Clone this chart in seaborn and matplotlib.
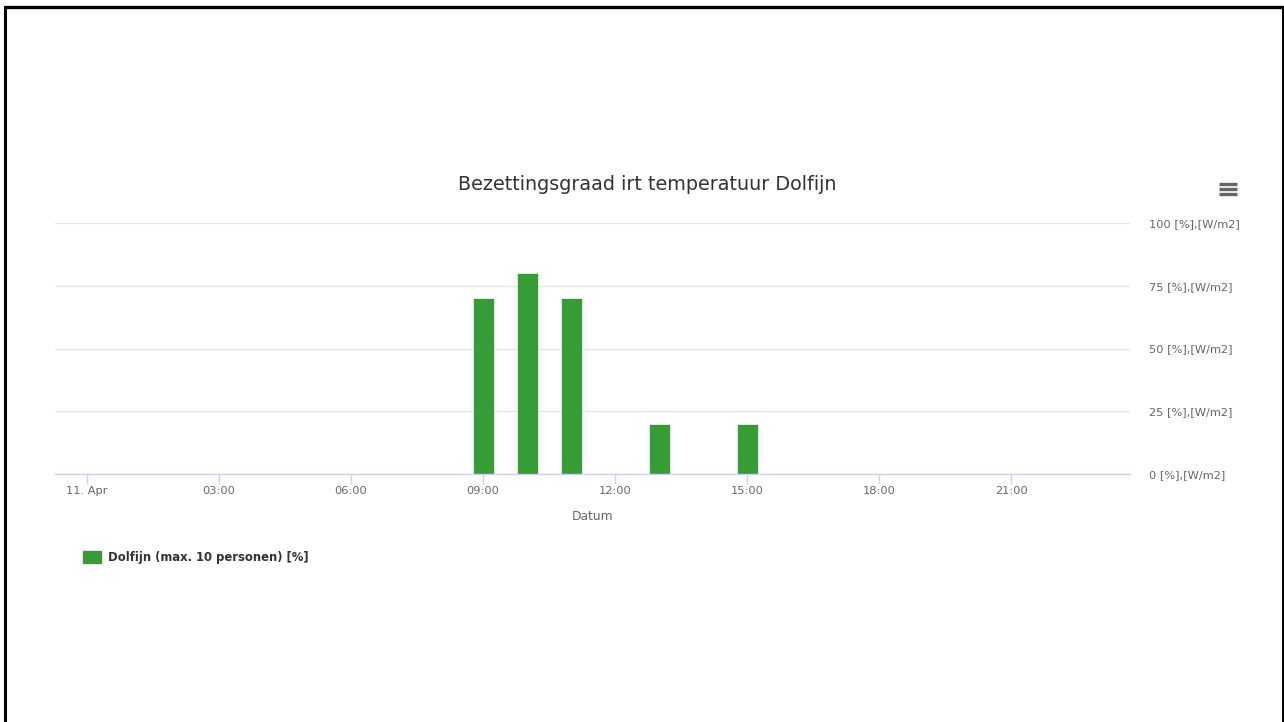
import matplotlib
matplotlib.use("Agg")
import matplotlib.pyplot as plt
from matplotlib.lines import Line2D
from matplotlib.patches import Patch
import seaborn as sns
import pandas as pd

# ---- data ----
hours = [9, 10, 11, 13, 15]
occupancy = [70, 80, 70, 20, 20]
series_name = "Dolfijn (max. 10 personen) [%]"
x_ticks = [0, 3, 6, 9, 12, 15, 18, 21]
x_tick_labels = ["11. Apr", "03:00", "06:00", "09:00", "12:00", "15:00", "18:00", "21:00"]
y_ticks = [0, 25, 50, 75, 100]
y_tick_labels = [f"{v} [%],[W/m2]" for v in y_ticks]
title = "Bezettingsgraad irt temperatuur Dolfijn"
x_label = "Datum"

W, H = 1284, 722
sns.set_theme(style="white")
plt.rcParams["font.family"] = ["DejaVu Sans"]

fig = plt.figure(figsize=(W / 100, H / 100), dpi=100)
fig.patch.set_facecolor("white")

left, right, top, bottom = 55, 1130, 223, 474
ax = fig.add_axes([left / W, 1 - bottom / H, (right - left) / W, (bottom - top) / H])

df = pd.DataFrame({"hour": hours, "value": occupancy})
bar_color = "#359c36"
sns.barplot(data=df, x="hour", y="value", native_scale=True, width=0.48,
            color=bar_color, saturation=1, edgecolor="#e8f4e8", linewidth=0.6,
            ax=ax, zorder=3)

ax.set_xlim(-0.727, 23.7)
ax.set_ylim(0, 100)

# y axis on the right
ax.yaxis.tick_right()
ax.set_yticks(y_ticks)
ax.set_yticklabels(y_tick_labels)
ax.tick_params(axis="y", length=0, pad=13.5, labelsize=8.2, labelcolor="#666666")
ax.set_ylabel("")
ax.grid(axis="y", color="#e6e6e6", linewidth=1, zorder=0)
ax.grid(axis="x", visible=False)

# x axis
ax.set_xticks(x_ticks)
ax.set_xticklabels(x_tick_labels)
ax.tick_params(axis="x", bottom=True, length=7, width=1, color="#ccd6eb",
               pad=2, labelsize=8.2, labelcolor="#666666")
ax.set_xlabel(x_label, fontsize=8.8, color="#666666")
ax.xaxis.set_label_coords(0.5, -0.145)

for s in ["left", "right", "top"]:
    ax.spines[s].set_visible(False)
ax.spines["bottom"].set_color("#ccd6eb")
ax.spines["bottom"].set_linewidth(1)
ax.spines["bottom"].set_zorder(4)

# title
fig.text(647 / W, 1 - 185 / H, title, ha="center", va="center",
         fontsize=13.8, color="#333333")

# legend
handle = Patch(facecolor=bar_color, edgecolor=bar_color)
leg = fig.legend([handle], [series_name], loc="center left",
                 bbox_to_anchor=(72 / W, 1 - 557 / H), frameon=False,
                 handlelength=1.6, handleheight=1.2, handletextpad=0.55,
                 prop={"weight": "bold", "size": 8.4})
for t in leg.get_texts():
    t.set_color("#333333")

# hamburger menu icon
for yy in (184, 189, 194):
    fig.add_artist(Line2D([1219 / W, 1237 / W], [1 - yy / H, 1 - yy / H],
                          color="#666666", linewidth=2.4, solid_capstyle="butt"))

# outer black border (top, left, right)
bc = "black"
fig.add_artist(Line2D([5 / W, 1282 / W], [1 - 6.5 / H, 1 - 6.5 / H], color=bc, linewidth=2.4))
fig.add_artist(Line2D([5 / W, 5 / W], [0, 1 - 6.5 / H], color=bc, linewidth=2.2))
fig.add_artist(Line2D([1282.5 / W, 1282.5 / W], [0, 1 - 6.5 / H], color=bc, linewidth=2.2))

fig.savefig("out.png", dpi=100, facecolor="white")
